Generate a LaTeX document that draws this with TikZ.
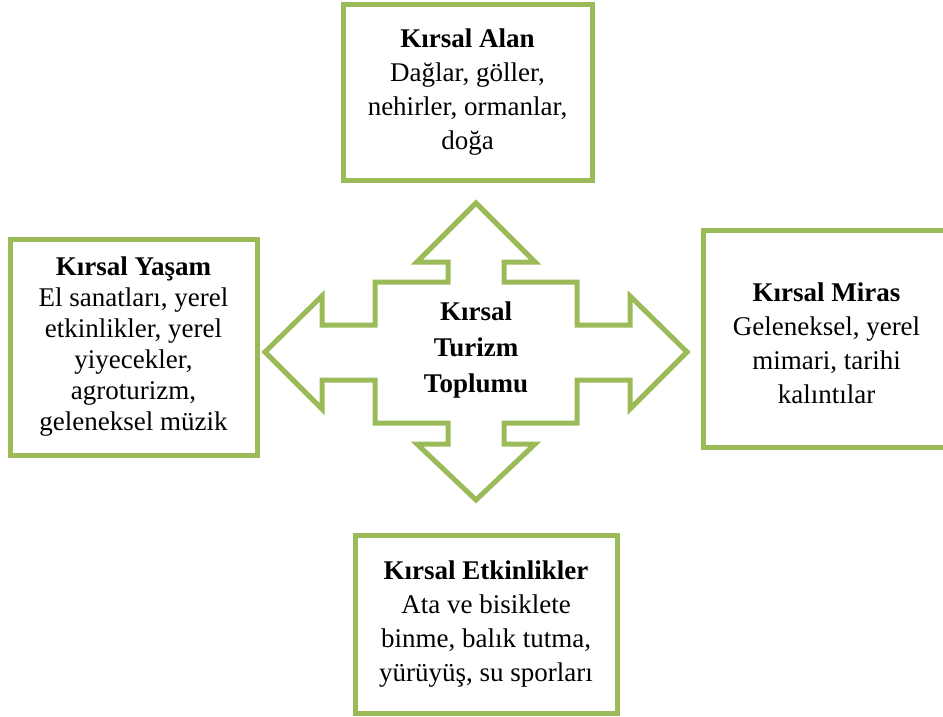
\documentclass[tikz,border=0pt]{standalone}
\usepackage{fontspec}
\setmainfont{Liberation Serif}
\definecolor{olivegreen}{HTML}{9BBB59}
\begin{document}
\begin{tikzpicture}[x=1pt,y=-1pt,
  box/.style={draw=olivegreen,line width=5pt,align=center,inner sep=0pt,
    font=\fontsize{27}{34}\selectfont},
  cross/.style={draw=olivegreen,line width=5pt,line join=miter}]
\useasboundingbox (0,0) rectangle (943,717);
% the four-way arrow in the middle
\draw[cross] (476,203) -- (535,262) -- (504,262) -- (504,282) -- (577,282)
  -- (577,325) -- (630,325) -- (630,296) -- (687,352) -- (630,409)
  -- (630,380) -- (577,380) -- (577,423) -- (504,423) -- (504,444)
  -- (535,444) -- (476,500) -- (417,444) -- (448,444) -- (448,423)
  -- (375,423) -- (375,380) -- (322,380) -- (322,409) -- (265,352)
  -- (322,296) -- (322,325) -- (375,325) -- (375,282) -- (448,282)
  -- (448,262) -- (417,262) -- cycle;
\node[font=\fontsize{27}{36}\selectfont\bfseries,align=center] (toplum) at (476,350) {Kırsal\\Turizm\\Toplumu};
%% the boxes
\node[box,minimum width=249pt,minimum height=175pt] (alan) at (467.5,92.5)
  {\textbf{Kırsal Alan}\\Dağlar, göller,\\nehirler, ormanlar,\\doğa};
\node[box,minimum width=247pt,minimum height=216pt,font=\fontsize{27}{31}\selectfont] (yasam) at (133.5,347)
  {\textbf{Kırsal Yaşam}\\El sanatları, yerel\\etkinlikler, yerel\\yiyecekler,\\agroturizm,\\geleneksel müzik};
\node[box,minimum width=247pt,minimum height=217pt] (miras) at (826.5,338.5)
  {\rule{0pt}{29pt}\textbf{Kırsal Miras}\\Geleneksel, yerel\\mimari, tarihi\\kalıntılar};
\node[box,minimum width=262pt,minimum height=178pt] (etkinlik) at (486,624)
  {\textbf{Kırsal Etkinlikler}\\Ata ve bisiklete\\binme, balık tutma,\\yürüyüş, su sporları};
\end{tikzpicture}
\end{document}
